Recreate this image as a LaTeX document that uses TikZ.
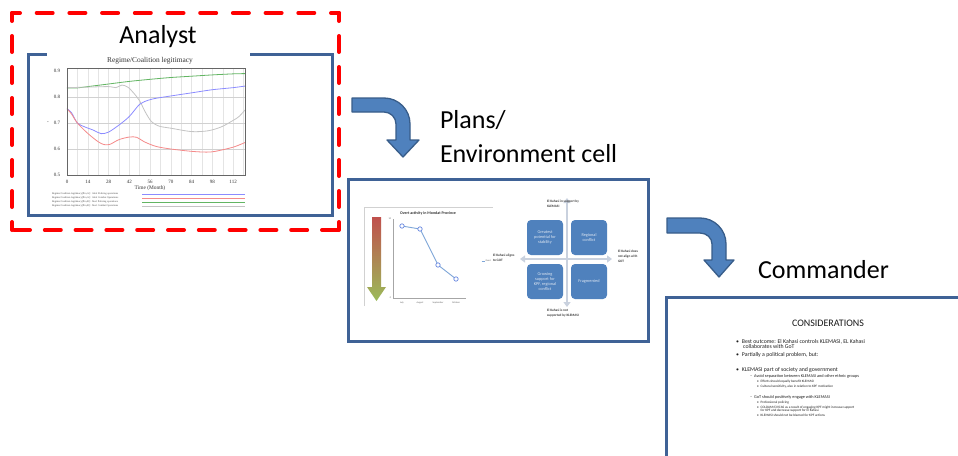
\documentclass[tikz,border=0pt]{standalone}
\usepackage{fontspec}
\setmainfont{Carlito}
\newfontfamily\chartfont{Liberation Serif}
\usetikzlibrary{arrows.meta}

\definecolor{frameblue}{HTML}{3F6296}
\definecolor{arrowfill}{HTML}{4F81BD}
\definecolor{arrowline}{HTML}{385D8A}
\definecolor{quadaxiscol}{HTML}{C9D1DE}
\definecolor{quadtext}{HTML}{DCE5F1}
\definecolor{gradred}{HTML}{C0504D}
\definecolor{gradgreen}{HTML}{9BBB59}
\definecolor{overtcol}{HTML}{7EA6D8}
\definecolor{curveblue}{HTML}{8C8CFF}
\definecolor{curvered}{HTML}{F58A8A}
\definecolor{curvegreen}{HTML}{62B562}
\definecolor{curvegray}{HTML}{C4C4C4}
\definecolor{gridcol}{HTML}{E4E4E4}

\tikzset{
  panel/.style={draw=frameblue, line width=3pt, fill=white, anchor=north west},
  bentarrow/.style={fill=arrowfill, draw=arrowline, line width=1.3pt, line join=round},
  stagetitle/.style={font=\fontsize{26}{30}\selectfont, anchor=base west},
  analystdash/.style={draw=red, line width=4pt, line cap=round},
  ticklbl/.style={font=\chartfont\fontsize{5}{5}\selectfont, text=black!80},
  legtext/.style={font=\chartfont\fontsize{2.6}{3}\selectfont, anchor=west, text=black!70},
  curve/.style={line width=0.8pt},
  quadbox/.style={rounded corners=4pt, fill=arrowfill, minimum width=36pt, minimum height=35pt,
    text=quadtext, align=center, font=\fontsize{4.3}{5.2}\selectfont},
  quadaxis/.style={draw=quadaxiscol, line width=2.6pt,
    {Triangle[width=7pt,length=5pt]}-{Triangle[width=7pt,length=5pt]}},
  quadlbl/.style={font=\bfseries\fontsize{3.4}{4.6}\selectfont, align=left, anchor=north west, text=black!75},
  overtline/.style={draw=overtcol, line width=0.9pt},
  overtpt/.style={circle, draw=overtcol!80!blue, fill=white, line width=0.7pt, minimum size=4.4pt},
  monthlbl/.style={font=\fontsize{2.4}{3}\selectfont, text=black!60},
  headline/.style={font=\fontsize{10}{12}\selectfont, text=black!90},
  lvA/.style={font=\fontsize{5.8}{6}\selectfont, anchor=base west, text=black!88},
  lvB/.style={font=\fontsize{4.3}{5}\selectfont, anchor=base west, text=black!88},
  lvC/.style={font=\fontsize{3.4}{4}\selectfont, anchor=base west, text=black!88},
}

\begin{document}
\begin{tikzpicture}[x=1pt, y=-1pt, every node/.style={inner sep=0pt, outer sep=0pt}]
\useasboundingbox[fill=white] (0,0) rectangle (958,455);

% ---------------- panels ----------------
\node[panel, minimum width=304pt, minimum height=161pt] (analystpanel) at (28,54) {};
\node[panel, minimum width=300pt, minimum height=162pt] (planspanel) at (348,179) {};
\node[panel, minimum width=330pt, minimum height=190pt] (cmdpanel) at (666,297) {};

% ---------------- stage titles ----------------
\node[stagetitle, anchor=base] (analyst) at (158,43) {Analyst};
\node[stagetitle] (plans) at (440,128) {Plans/};
\node[stagetitle] (envcell) at (440,162) {Environment cell};
\node[stagetitle] (commander) at (758,278) {Commander};

% ---------------- legitimacy chart ----------------
\fill[white] (47,52) rectangle (250,211);
\node[font=\chartfont\fontsize{7.4}{8}\selectfont, text=black!80] (charttitle) at (150,61) {Regime/Coalition legitimacy};
\begin{scope}[shift={(67pt,-305pt)}, x=1.4833pt, y=260pt]
  % grid
  \foreach \m in {7,14,...,119} \draw[gridcol, line width=0.5pt] (\m,0.5) -- (\m,0.91);
  \foreach \v in {0.6,0.7,0.8} \draw[black!18, line width=0.6pt] (0,\v) -- (120,\v);
  % curves
  \draw[curve, curvegreen] plot[smooth] coordinates {(0,.835) (7,.835) (14,.840) (28,.850) (42,.860) (56,.868) (70,.875) (84,.880) (98,.885) (112,.889) (120,.890)};
  \draw[curve, curvegray] plot[smooth] coordinates {(0,.836) (14,.838) (28,.840) (33,.836) (37,.846) (41,.838) (45,.815) (49,.785) (53,.74) (57,.705) (62,.688) (70,.680) (84,.667) (95,.670) (104,.685) (112,.71) (116,.725) (120,.75)};
  \draw[curve, curveblue] plot[smooth] coordinates {(0,.755) (3,.74) (7,.70) (12,.685) (18,.672) (23,.659) (28,.665) (35,.692) (42,.725) (49,.772) (55,.788) (60,.795) (70,.804) (84,.816) (98,.828) (112,.836) (120,.842)};
  \draw[curve, curvered] plot[smooth] coordinates {(0,.755) (3,.735) (7,.70) (14,.66) (21,.628) (25,.617) (29,.618) (35,.636) (42,.646) (47,.645) (52,.628) (60,.61) (70,.60) (84,.591) (94,.588) (100,.591) (112,.607) (120,.625)};
  % frame
  \draw[black!60, line width=0.8pt] (0,0.5) rectangle (120,0.91);
  % tick labels
  \foreach \m in {0,14,...,112} \node[ticklbl, yshift=-7pt] (xt\m) at (\m,0.5) {\m};
  \foreach \v in {0.5,0.6,0.7,0.8,0.9} \node[ticklbl, xshift=-10pt] (yt\v) at (0,\v) {\v};
\end{scope}
\node[ticklbl] (yaxislbl) at (48,123) {-};
\node[ticklbl, font=\chartfont\fontsize{5.4}{6}\selectfont] (timelbl) at (150,188.5) {Time (Month)};
% legend
\node[legtext] (leg1) at (52,194) {Regime/Coalition legitimacy[Pro,A] : Alert Policing operations};
\node[legtext] (leg2) at (52,198) {Regime/Coalition legitimacy[Pro,A] : Alert Combat Operations};
\node[legtext] (leg3) at (52,202) {Regime/Coalition legitimacy[Pro,B] : Alert Policing operations};
\node[legtext] (leg4) at (52,206) {Regime/Coalition legitimacy[Pro,B] : Alert Combat Operations};
\draw[curve, curveblue] (142,194) -- (245,194);
\draw[curve, curvered] (142,198) -- (245,198);
\draw[curve, curvegreen] (142,202) -- (245,202);
\draw[curve, curvegray] (142,206) -- (245,206);

% ---------------- overt activity chart ----------------
\draw[black!18, line width=0.5pt] (364,306) |- (493,207);
\shade[top color=gradred, bottom color=gradgreen]
  (372,217) -- (381,217) -- (381,287) -- (386,287) -- (376.5,301) -- (367,287) -- (372,287) -- cycle;
\node[font=\bfseries\fontsize{4}{4}\selectfont, text=black!80] (overttitle) at (428,213) {Overt activity in Mondat Province};
\draw[black!35, line width=0.4pt] (393,219) -- (393,298) -- (466,298);
\node[monthlbl, anchor=east] (ov10) at (391,219) {10};
\node[monthlbl, anchor=east] (ov0) at (391,298) {0};
\draw[overtline] (402,226) -- (420,229) -- (438,265) -- (456,279);
\node[overtpt] (p1) at (402,226) {};
\node[overtpt] (p2) at (420,229) {};
\node[overtpt] (p3) at (438,265) {};
\node[overtpt] (p4) at (456,279) {};
\node[monthlbl] (m1) at (402,303) {July};
\node[monthlbl] (m2) at (420,303) {August};
\node[monthlbl] (m3) at (438,303) {September};
\node[monthlbl] (m4) at (456,303) {October};
\draw[overtline, line width=0.6pt] (481.5,261) -- (485,261);
\node[monthlbl, anchor=west] (overtleg) at (485.5,261) {Overt};

% ---------------- quadrant diagram ----------------
\draw[quadaxis] (520,259) -- (612,259);
\draw[quadaxis] (567,198) -- (567,307);
\node[quadbox] (q1) at (545,237.5) {Greatest\\potential for\\stability};
\node[quadbox] (q2) at (589,237.5) {Regional\\conflict};
\node[quadbox] (q3) at (545,281.5) {Growing\\support for\\KPF, regional\\conflict};
\node[quadbox] (q4) at (589,281.5) {Fragmented};
\node[quadlbl] (qtop) at (547,200.5) {El Kahasi in support by\\KLEMASI};
\node[quadlbl] (qbot) at (547,309.5) {El Kahasi is not\\supported by KLEMASI};
\node[quadlbl] (qleft) at (493,254.5) {El Kahasi aligns\\to GOT};
\node[quadlbl] (qright) at (618,250.5) {El Kahasi does\\not align with\\GOT};

% ---------------- considerations slide ----------------
\node[headline] (considerations) at (828,323) {CONSIDERATIONS};
\node[lvA] (b1) at (736,343.4) {\textbullet\hspace{3pt}Best outcome: El Kahasi controls KLEMASI, EL Kahasi};
\node[lvA] (b1b) at (743.2,348.4) {collaborates with GoT};
\node[lvA] (b2) at (736,356.4) {\textbullet\hspace{3pt}Partially a political problem, but:};
\node[lvA] (b3) at (736,371.7) {\textbullet\hspace{3pt}KLEMASI part of society and government};
\node[lvB] (s1) at (750,377.3) {–\hspace{2pt}Avoid separation between KLEMASI and other ethnic groups};
\node[lvC] (t1) at (757,382) {\textbullet\hspace{2pt}Efforts should equally benefit KLEMASI};
\node[lvC] (t2) at (757,387) {\textbullet\hspace{2pt}Cultural sensitivity, also in relation to KPF motivation};
\node[lvB] (s2) at (750,398.6) {–\hspace{2pt}GoT should positively engage with KLEMASI};
\node[lvC] (t3) at (757,403.3) {\textbullet\hspace{2pt}Professional policing};
\node[lvC] (t4) at (757,408.3) {\textbullet\hspace{2pt}COLDAM/CIVCAS as a result of engaging KPF might increase support};
\node[lvC] (t4b) at (760.6,411.7) {for KPF and decrease support for El Kahasi};
\node[lvC] (t5) at (757,416.3) {\textbullet\hspace{2pt}KLEMASI should not be blamed for KPF actions};

% ---------------- hand-over arrows ----------------
\path[bentarrow] (352,98) -- (384,98) .. controls (398.4,98) and (410,109.6) .. (410,124)
  -- (410,140) -- (419,140) -- (403,157) -- (387,140) -- (396,140) -- (396,124)
  .. controls (396,117.4) and (390.6,112) .. (384,112) -- (352,112) -- cycle;
\path[bentarrow] (667,218) -- (700,218) .. controls (714.4,218) and (726,229.6) .. (726,244)
  -- (726,260) -- (734,260) -- (719,277) -- (704,260) -- (712,260) -- (712,244)
  .. controls (712,237.9) and (706.6,233) .. (700,233) -- (667,233) -- cycle;

% ---------------- analyst group outline (one dash run per side) ----------------
\coordinate (dTL) at (12,13);
\coordinate (dTR) at (339,13);
\coordinate (dBL) at (12,230);
\coordinate (dBR) at (339,230);
\draw[analystdash, dash pattern=on 16pt off 16.7pt, dash phase=8pt] (dTL) -- (dTR);
\draw[analystdash, dash pattern=on 16pt off 15pt, dash phase=8pt] (dTL) -- (dBL);
\draw[analystdash, dash pattern=on 16pt off 15pt, dash phase=8pt] (dTR) -- (dBR);
\draw[analystdash, dash pattern=on 16pt off 14.8pt] ([xshift=2pt]dBL) -- ([xshift=-1pt]dBR);
\end{tikzpicture}
\end{document}
